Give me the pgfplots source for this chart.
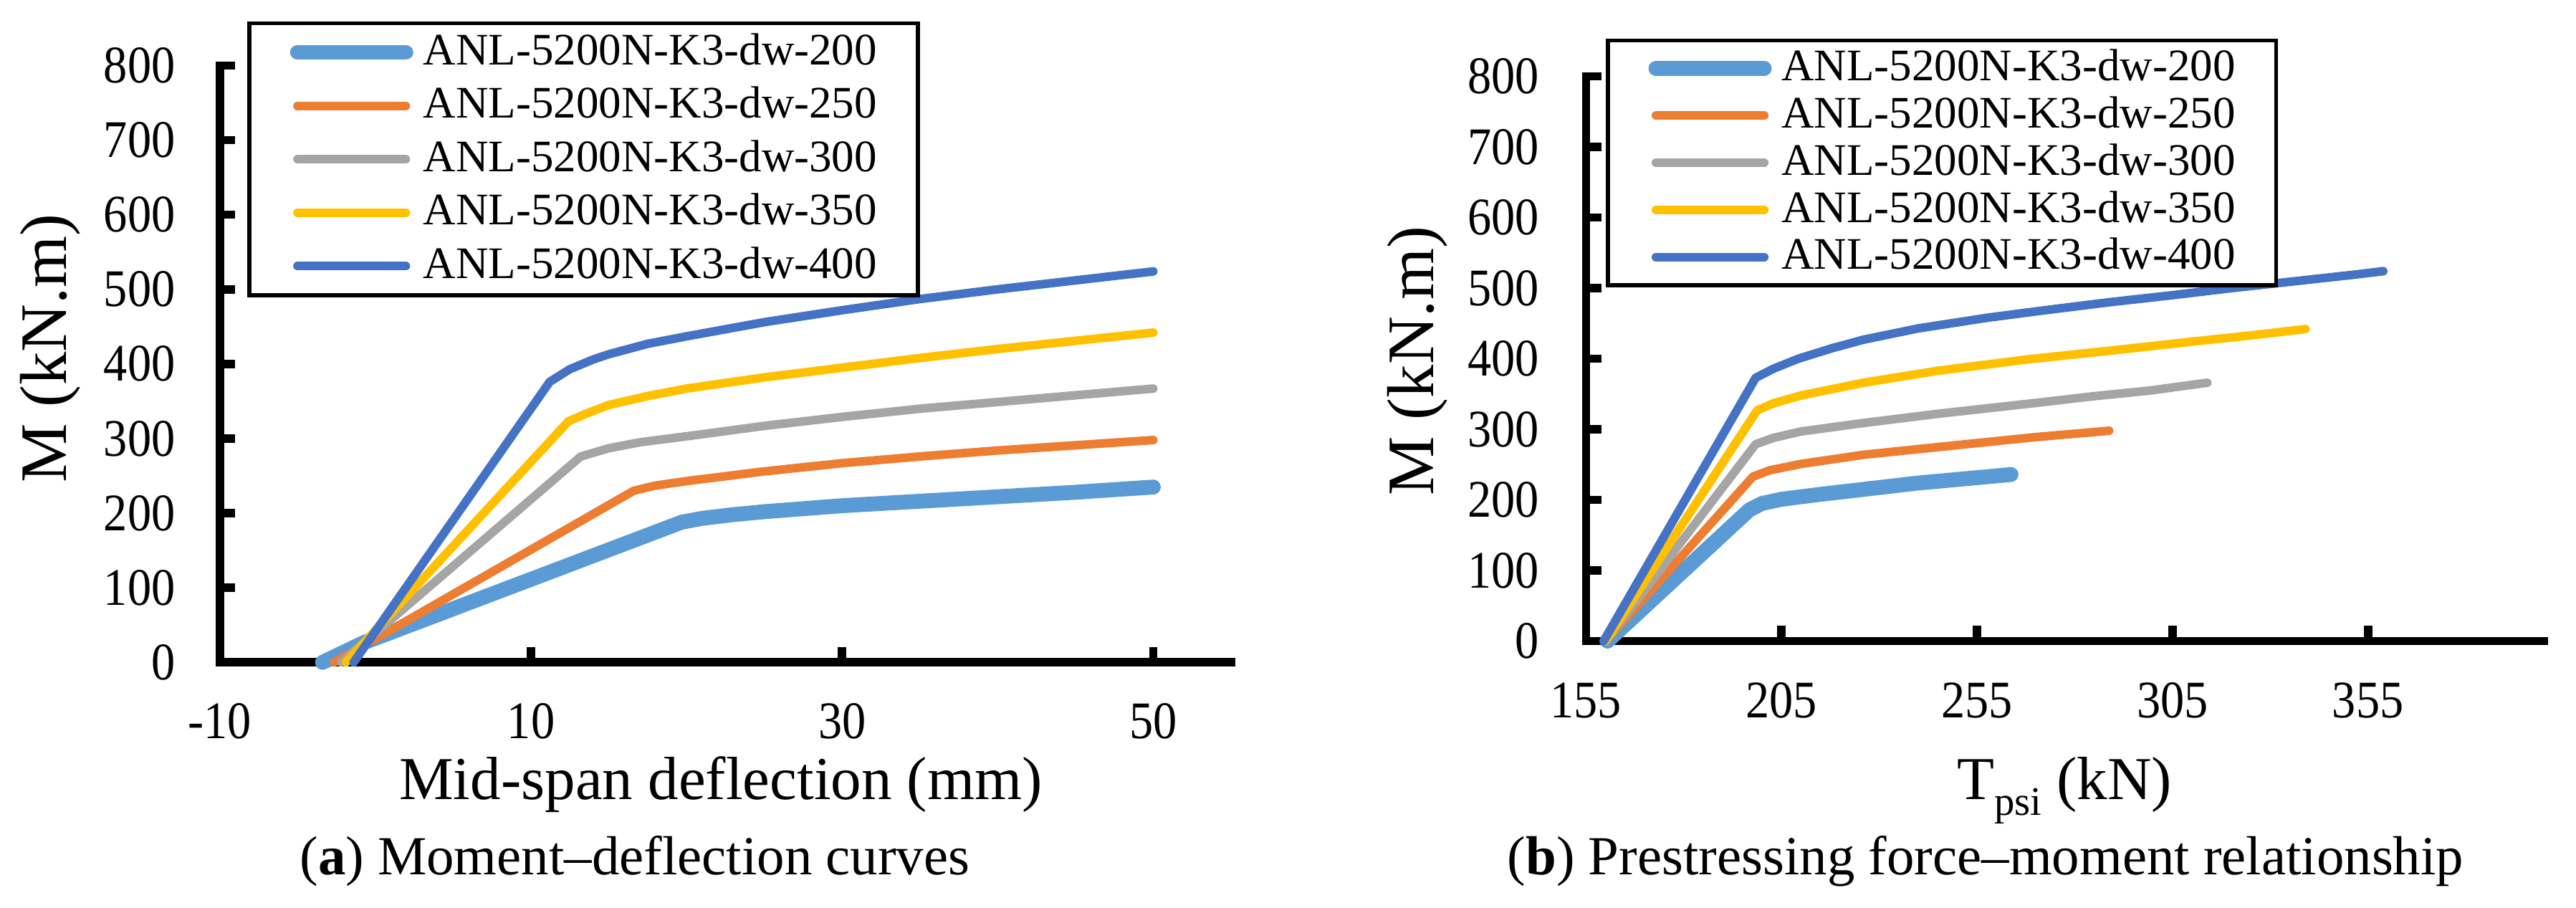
\documentclass[border=0pt]{standalone}
\usepackage{fontspec}
\setmainfont{Liberation Serif}
\newfontfamily\tickfont[FakeStretch=0.9]{Liberation Serif}
\usepackage{pgfplots}
\pgfplotsset{compat=1.18}
\definecolor{cA}{HTML}{5B9BD5}
\definecolor{cB}{HTML}{ED7D31}
\definecolor{cC}{HTML}{A5A5A5}
\definecolor{cD}{HTML}{FFC000}
\definecolor{cE}{HTML}{4472C4}
\pgfplotsset{
  myaxis/.style={
    scale only axis,
    axis x line=bottom, axis y line=left,
    axis line style={line width=1.85pt, -, black, line cap=rect},
    tick align=inside,
    major tick length=3.4pt,
    tick style={line width=1.85pt, black},
    ymin=0, ymax=800, ytick={0,100,...,800},
    /pgf/number format/assume math mode=true,
    tick label style={font=\tickfont\fontsize{11.7}{13}\selectfont},
    xticklabel style={anchor=base, inner sep=0pt, yshift=-16.9pt},
    clip=false,
    legend cell align=left,
    legend image code/.code={\draw[##1,line cap=round] (0pt,0pt) -- (24pt,0pt);},
    every axis plot/.append style={line join=round, line cap=round},
    xlabel style={font=\fontsize{13.5}{16}\selectfont, anchor=base},
    ylabel style={font=\fontsize{14.7}{17}\selectfont, anchor=center, rotate=0},
  }
}
\begin{document}
\begin{tikzpicture}
\path[use as bounding box] (0,0) rectangle (570.6pt,201pt);
% ---------------- left panel
\begin{axis}[myaxis,
  at={(48.7pt,54.3pt)}, anchor=south west,
  width=224pt, height=132.2pt,
  xmin=-10, xmax=55,
  xtick={-10,10,30,50}, xticklabels={-10,10,30,50},
  yticklabel style={anchor=east, inner sep=0pt, xshift=-9.7pt},
  xlabel={Mid-span deflection (mm)},
  ylabel={M (kN.m)},
  xlabel style={at={(rel axis cs:0.4955,-0.2292)}},
  ylabel style={at={(rel axis cs:-0.1679,0.526)}},
  legend style={at={(0.0272,1.074)}, anchor=north west, draw=black, line width=0.9pt,
    inner xsep=9pt, inner ysep=2.2pt, row sep=3.4pt, column sep=2.2pt,
    font=\fontsize{10}{12}\selectfont, nodes={inner sep=0pt}},
]
\addplot[cA, line width=3.3pt] coordinates {(-3.4,0) (-0.8,26) (19.7,188) (21,193) (23,198) (25,202) (30,210) (35,216) (40,222) (45,228) (50,235)};
\addlegendentry{ANL-5200N-K3-dw-200}
\addplot[cB, line width=1.9pt] coordinates {(-2.65,0) (16.6,230) (18,237) (20,243) (25,256) (30,267) (35,276) (40,284) (45,291) (50,298)};
\addlegendentry{ANL-5200N-K3-dw-250}
\addplot[cC, line width=1.9pt] coordinates {(-2.2,0) (13.2,276) (15,287) (17,295) (20,303) (25,317) (30,329) (35,340) (40,349) (45,358) (50,367)};
\addlegendentry{ANL-5200N-K3-dw-300}
\addplot[cD, line width=1.9pt] coordinates {(-1.9,0) (12.4,323) (13.5,333) (15,345) (17.5,357) (20,367) (25,382) (30,395) (35,408) (40,420) (45,431) (50,442)};
\addlegendentry{ANL-5200N-K3-dw-350}
\addplot[cE, line width=1.9pt] coordinates {(-1.4,0) (11.2,376) (12.5,393) (14,406) (15,413) (17.5,427) (20,437) (25,456) (30,472) (35,487) (40,500) (45,512) (50,524)};
\addlegendentry{ANL-5200N-K3-dw-400}
\end{axis}
% ---------------- right panel
\begin{axis}[myaxis,
  at={(351.3pt,59.0pt)}, anchor=south west,
  width=212.2pt, height=125.1pt,
  xmin=155, xmax=400,
  xtick={155,205,255,305,355}, xticklabels={155,205,255,305,355},
  yticklabel style={anchor=east, inner sep=0pt, xshift=-10.2pt},
  xlabel={T\raisebox{-3.5pt}{\fontsize{9}{11}\selectfont psi} (kN)},
  ylabel={M (kN.m)},
  xlabel style={at={(rel axis cs:0.4995,-0.2798)}},
  ylabel style={at={(rel axis cs:-0.1758,0.496)}},
  legend style={at={(0.0207,1.067)}, anchor=north west, draw=black, line width=0.9pt,
    inner xsep=9pt, inner ysep=2pt, row sep=2.0pt, column sep=2.2pt,
    font=\fontsize{10}{12}\selectfont, nodes={inner sep=0pt}},
]
\addplot[cA, line width=3.3pt] coordinates {(160.5,0) (196.8,186) (200,195) (205,201) (215,208) (226,215) (240,224) (250,229) (263.7,236)};
\addlegendentry{ANL-5200N-K3-dw-200}
\addplot[cB, line width=1.9pt] coordinates {(160,0) (197.7,233) (202,242) (210,251) (226,264) (240,272) (257.6,282) (270,289) (288.8,298)};
\addlegendentry{ANL-5200N-K3-dw-250}
\addplot[cC, line width=1.9pt] coordinates {(160,0) (198.4,279) (203,288) (210,297) (226,309) (245,322) (267.8,336) (285,347) (299.3,355) (313.9,366)};
\addlegendentry{ANL-5200N-K3-dw-300}
\addplot[cD, line width=1.9pt] coordinates {(160,0) (198.8,327) (203,337) (210,348) (226,366) (245,383) (267.8,399) (290,412) (309.7,424) (325,433) (339,442)};
\addlegendentry{ANL-5200N-K3-dw-350}
\addplot[cE, line width=1.9pt] coordinates {(159.5,0) (198.4,373) (203,386) (209.3,400) (218,415) (226,427) (240,443) (257.6,458) (270,467) (288.8,480) (305,490) (320.1,500) (335,509) (351.4,519) (358.9,524)};
\addlegendentry{ANL-5200N-K3-dw-400}
\end{axis}
\node[anchor=base, font=\fontsize{12.2}{14}\selectfont, inner sep=0pt] at (140.6pt,7.3pt) {(\textbf{a}) Moment–deflection curves};
\node[anchor=base, font=\fontsize{12.2}{14}\selectfont, inner sep=0pt] at (439.8pt,7.3pt) {(\textbf{b}) Prestressing force–moment relationship};
\end{tikzpicture}
\end{document}
